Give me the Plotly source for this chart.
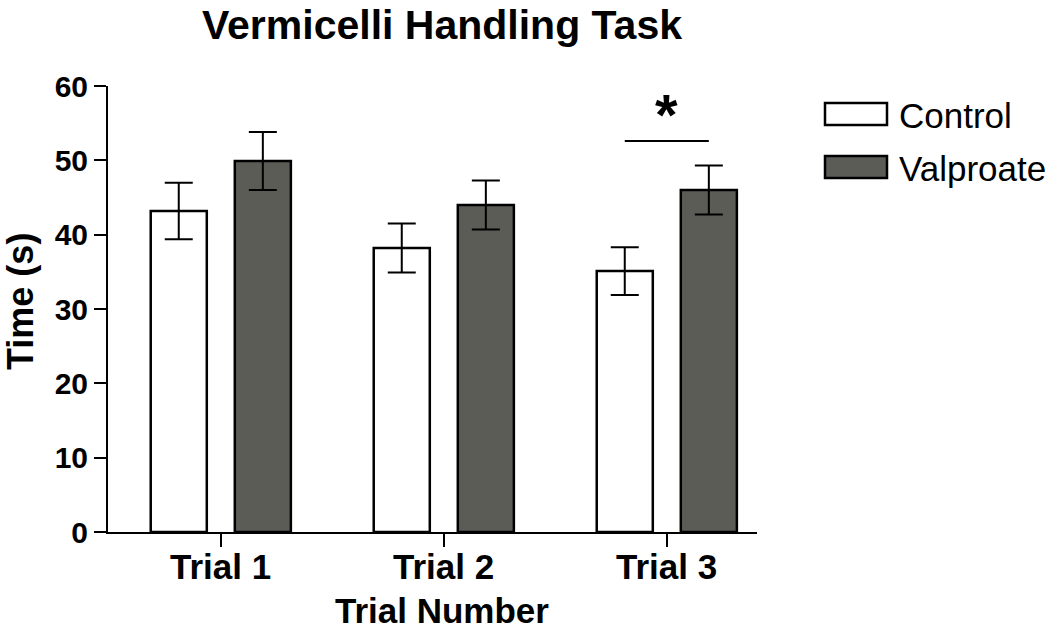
import plotly.graph_objects as go

# ---- data ----
categories = ["Trial 1", "Trial 2", "Trial 3"]
control_mean = [43.2, 38.2, 35.1]
control_sem = [3.8, 3.3, 3.2]
valproate_mean = [49.9, 44.0, 46.0]
valproate_sem = [3.9, 3.3, 3.3]
series_names = ["Control", "Valproate"]
y_ticks = [0, 10, 20, 30, 40, 50, 60]
sig_line_y = 52.6
sig_star_y = 57.0
sig_group = 2  # Trial 3

# ---- style / layout ----
W, H = 1050, 630
PL, PR, PT, PB = 108, 757, 86, 532   # plot area pixel box
FONT = "Liberation Sans, Arial, sans-serif"
control_fill = "#ffffff"
valproate_fill = "#5b5c56"
bargap = 0.246
bargroupgap = 0.333
slot = (1 - bargap) / 2

xpos = list(range(len(categories)))

fig = go.Figure()
fig.add_trace(go.Bar(
    x=xpos, y=control_mean, name=series_names[0],
    marker=dict(color=control_fill, line=dict(color="black", width=2.5)),
    error_y=dict(type="data", array=control_sem, visible=True,
                 color="black", thickness=2, width=14),
    showlegend=False,
))
fig.add_trace(go.Bar(
    x=xpos, y=valproate_mean, name=series_names[1],
    marker=dict(color=valproate_fill, line=dict(color="black", width=2.5)),
    error_y=dict(type="data", array=valproate_sem, visible=True,
                 color="black", thickness=2, width=14),
    showlegend=False,
))

unit_px = 223.0
x0_px = 220.8
xr = [-(x0_px - PL) / unit_px, (PR - x0_px) / unit_px]

fig.update_layout(
    width=W, height=H,
    margin=dict(l=PL, r=W - PR, t=PT, b=H - PB, pad=0),
    paper_bgcolor="white", plot_bgcolor="white",
    barmode="group", bargap=bargap, bargroupgap=bargroupgap,
    font=dict(family=FONT, color="black"),
    title=dict(text="Vermicelli Handling Task", x=442 / W, xanchor="center",
               xref="container", y=1 - 25 / H, yanchor="middle", yref="container",
               font=dict(size=41, family=FONT, weight="bold", color="black")),
    xaxis=dict(range=xr, tickvals=xpos, ticktext=categories, showticklabels=False,
               showline=True, linecolor="black", linewidth=2,
               ticks="outside", ticklen=13, tickwidth=2, tickcolor="black",
               showgrid=False, zeroline=False),
    yaxis=dict(range=[0, 60], tickvals=y_ticks,
               showline=True, linecolor="black", linewidth=2,
               ticks="outside", ticklen=12, tickwidth=2, tickcolor="black",
               showgrid=False, zeroline=False, ticklabelstandoff=0,
               tickfont=dict(size=30, family=FONT, weight="bold", color="black")),
)

pw, ph = PR - PL, PB - PT
def px_x(p):
    return (p - PL) / pw
def px_y(p):
    return (PB - p) / ph

# category labels
for xi, cat in zip(xpos, categories):
    fig.add_annotation(text=cat, xref="x", yref="paper", x=xi, y=px_y(566),
                       xanchor="center", yanchor="middle", showarrow=False,
                       font=dict(size=35, family=FONT, weight="bold", color="black"))

# axis titles
fig.add_annotation(text="Trial Number", xref="paper", yref="paper",
                   x=px_x(441.5), y=px_y(610), xanchor="center", yanchor="middle",
                   showarrow=False,
                   font=dict(size=35, family=FONT, weight="bold", color="black"))
fig.add_annotation(text="Time (s)", xref="paper", yref="paper", textangle=-90,
                   x=px_x(20), y=px_y(302), xanchor="center", yanchor="middle",
                   showarrow=False,
                   font=dict(size=36, family=FONT, weight="bold", color="black"))

# significance marker between the two Trial 3 bars
fig.add_shape(type="line", xref="x", yref="y",
              x0=sig_group - slot / 2, x1=sig_group + slot / 2,
              y0=sig_line_y, y1=sig_line_y,
              line=dict(color="black", width=2))
fig.add_annotation(text="*", xref="x", yref="y", x=sig_group, y=sig_star_y,
                   yshift=-6, showarrow=False, xanchor="center", yanchor="middle",
                   font=dict(size=58, family=FONT, weight="bold", color="black"))

# manual legend
legend_items = [(series_names[0], control_fill, 103, 125, 116),
                (series_names[1], valproate_fill, 156, 178, 168)]
for name, fill, ytop, ybot, ytxt in legend_items:
    fig.add_shape(type="rect", xref="paper", yref="paper",
                  x0=px_x(825), x1=px_x(887), y0=px_y(ybot), y1=px_y(ytop),
                  fillcolor=fill, line=dict(color="black", width=2.5))
    fig.add_annotation(text=name, xref="paper", yref="paper",
                       x=px_x(897), y=px_y(ytxt), xanchor="left", yanchor="middle",
                       showarrow=False,
                       font=dict(size=35, family=FONT, color="black"))

fig.write_html("out.html", config={"displayModeBar": False},
               post_script="document.body.style.margin='0';document.body.style.padding='0';")
